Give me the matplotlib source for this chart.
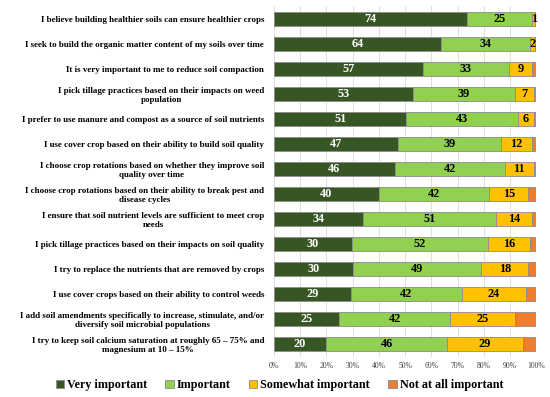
import matplotlib
matplotlib.use("Agg")
import matplotlib.pyplot as plt
import numpy as np
from matplotlib.ticker import PercentFormatter

categories = [
    "I believe building healthier soils can ensure healthier crops",
    "I seek to build the organic matter content of my soils over time",
    "It is very important to me to reduce soil compaction",
    "I pick tillage practices based on their impacts on weed\npopulation",
    "I prefer to use manure and compost as a source of soil nutrients",
    "I use cover crop based on their ability to build soil quality",
    "I choose crop rotations based on whether they improve soil\nquality over time",
    "I choose crop rotations based on their ability to break pest and\ndisease cycles",
    "I ensure that soil nutrient levels are sufficient to meet crop\nneeds",
    "I pick tillage practices based on their impacts on soil quality",
    "I try to replace the nutrients that are removed by crops",
    "I use cover crops based on their ability to control weeds",
    "I add soil amendments specifically to increase, stimulate, and/or\ndiversify soil microbial populations",
    "I try to keep soil calcium saturation at roughly 65 \u2013 75% and\nmagnesium at 10 \u2013 15%",
]
very_important = [74, 64, 57, 53, 51, 47, 46, 40, 34, 30, 30, 29, 25, 20]
important = [25, 34, 33, 39, 43, 39, 42, 42, 51, 52, 49, 42, 42, 46]
somewhat_important = [1, 2, 9, 7, 6, 12, 11, 15, 14, 16, 18, 24, 25, 29]
not_important = [0.5, 0.3, 1.5, 1, 1, 1.5, 1, 3, 1.5, 2.5, 3, 4, 8, 5]

series = [
    ("Very important", very_important, "#375623", "white"),
    ("Important", important, "#92D050", "black"),
    ("Somewhat important", somewhat_important, "#FFC000", "black"),
    ("Not at all important", not_important, "#ED7D31", None),
]

plt.rcParams['font.family'] = ['Liberation Serif', 'DejaVu Serif']

fig = plt.figure(figsize=(5.5, 3.97), dpi=100)
ax = fig.add_axes([0.498, 0.102, 0.477, 0.882])

data = np.array([s[1] for s in series], dtype=float)
totals = data.sum(axis=0)
pct = data / totals * 100
y = np.arange(len(categories))
left = np.zeros(len(categories))
for (name, vals, color, tcolor), p in zip(series, pct):
    ax.barh(y, p, left=left, height=0.58, color=color, edgecolor="#8c8c8c",
            linewidth=0.6, label=name, zorder=3)
    if tcolor is not None:
        for yi, (v, pv, l) in enumerate(zip(vals, p, left)):
            ax.text(l + pv / 2, yi, f"{v:g}", ha="center", va="center",
                    color=tcolor, fontsize=8.8, fontweight="bold", zorder=4)
    left += p

ax.set_ylim(len(categories) - 0.5, -0.5)
ax.set_xlim(0, 100)
ax.set_xticks(np.arange(0, 101, 10))
ax.xaxis.set_major_formatter(PercentFormatter(decimals=0))
ax.tick_params(axis="x", labelsize=5.5, length=0, pad=4, colors="#404040")
ax.set_yticks(y)
ax.set_yticklabels(categories, fontsize=6.5, fontweight="bold", multialignment="center")
ax.tick_params(axis="y", length=0, pad=7)
ax.grid(axis="x", color="#d9d9d9", linewidth=0.6, zorder=0)
for s in ax.spines.values():
    s.set_visible(False)

handles, labels = ax.get_legend_handles_labels()
fig.legend(handles, labels, loc="center", bbox_to_anchor=(0.508, 0.03), ncol=4,
           frameon=False, prop={"size": 8.7, "weight": "bold"},
           handlelength=0.7, handleheight=0.7, handletextpad=0.25, columnspacing=1.5)

fig.savefig("out.png", dpi=100)
